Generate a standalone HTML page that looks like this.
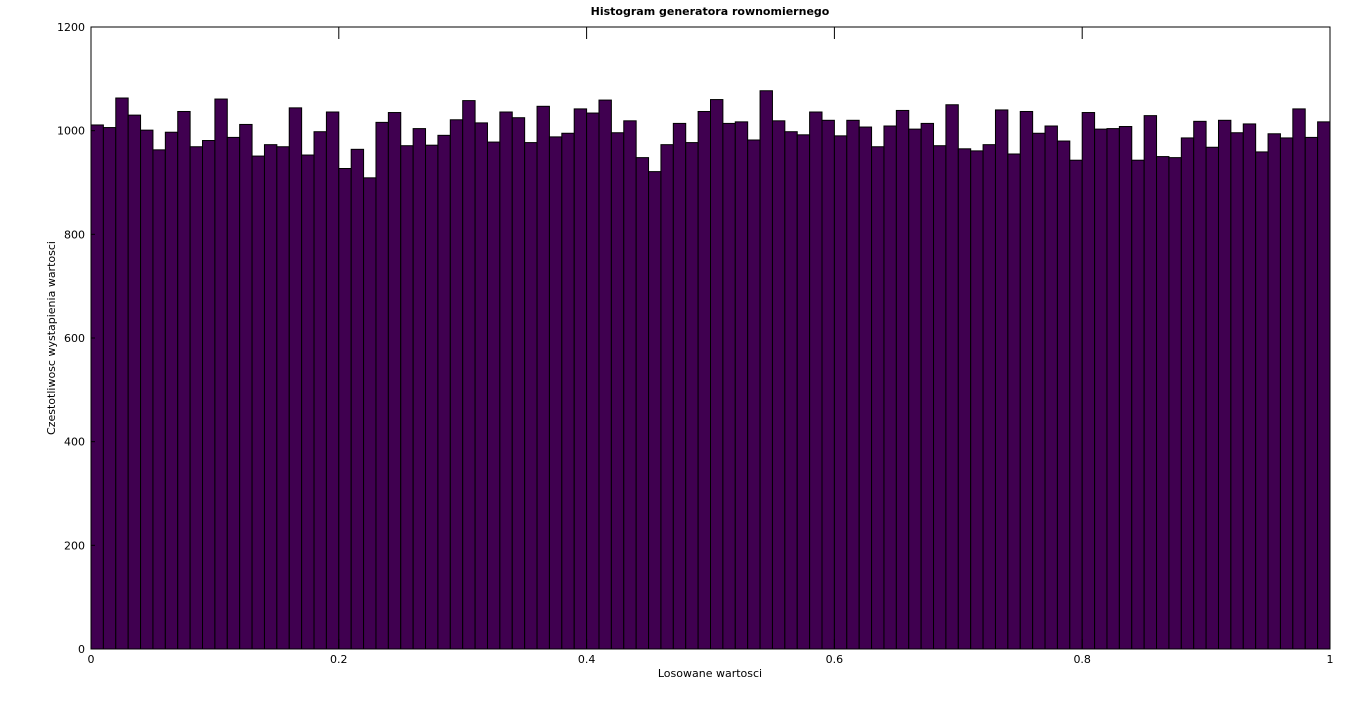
<!DOCTYPE html>
<html><head><meta charset="utf-8"><style>
body{margin:0;background:#fff;font-family:"DejaVu Sans",sans-serif}
svg text{font-family:"DejaVu Sans",sans-serif;font-size:11px;fill:#000}
</style></head><body>
<svg id="chart" width="1367" height="697" xmlns="http://www.w3.org/2000/svg">
<text x="710" y="15" text-anchor="middle" font-weight="bold">Histogram generatora rownomiernego</text>
<text x="710" y="677" text-anchor="middle">Losowane wartosci</text>
<text transform="translate(55,338) rotate(-90)" text-anchor="middle">Czestotliwosc wystapienia wartosci</text>
<g id="bars"></g>
<g id="axes"></g>
</svg>
<script>
const counts=[1011,1006,1063,1030,1001,963,997,1037,969,981,1061,987,1012,951,973,969,1044,953,998,1036,927,964,909,1016,1035,971,1004,972,991,1021,1058,1015,978,1036,1025,977,1047,988,995,1042,1034,1059,996,1019,948,921,973,1014,977,1037,1060,1014,1017,982,1077,1019,998,992,1036,1020,990,1020,1007,969,1009,1039,1003,1014,971,1050,965,961,973,1040,955,1037,995,1009,980,943,1035,1003,1004,1008,943,1029,950,948,986,1018,968,1020,996,1013,959,994,986,1042,987,1017];
const xTicks=[0,0.2,0.4,0.6,0.8,1];
const yTicks=[0,200,400,600,800,1000,1200];
const X0=91,X1=1330,Y0=649,Y1=27;
const sx=v=>X0+v*(X1-X0);
const sy=v=>Y0-v/1200*(Y0-Y1);
const NS="http://www.w3.org/2000/svg";
const bars=document.getElementById('bars'),axes=document.getElementById('axes');
const n=counts.length;
counts.forEach((c,i)=>{
  const r=document.createElementNS(NS,'rect');
  const x=sx(i/n),w=sx((i+1)/n)-x;
  r.setAttribute('x',x);r.setAttribute('y',sy(c));r.setAttribute('width',w);r.setAttribute('height',Y0-sy(c));
  r.setAttribute('fill','#400050');r.setAttribute('stroke','#000');r.setAttribute('stroke-width','1');
  
  
  bars.appendChild(r);
});
const frame=document.createElementNS(NS,'rect');
frame.setAttribute('x',X0);frame.setAttribute('y',Y1);frame.setAttribute('width',X1-X0);frame.setAttribute('height',Y0-Y1);
frame.setAttribute('fill','none');frame.setAttribute('stroke','#000');


axes.appendChild(frame);
function line(x1,y1,x2,y2){const l=document.createElementNS(NS,'line');l.setAttribute('x1',x1);l.setAttribute('y1',y1);l.setAttribute('x2',x2);l.setAttribute('y2',y2);l.setAttribute('stroke','#000');axes.appendChild(l);return l;}
xTicks.forEach(t=>{
  const x=sx(t);
  const a=line(x,Y0,x,Y0-10);
  
  
  const b=line(x,Y1,x,Y1+12);
  
  
  const tx=document.createElementNS(NS,'text');
  tx.setAttribute('x',x);tx.setAttribute('y',663);tx.setAttribute('text-anchor','middle');tx.textContent=String(t);
  
  
  axes.appendChild(tx);
});
yTicks.forEach(t=>{
  const y=sy(t);
  const a=line(X0,y,X0+4,y);
  
  
  const tx=document.createElementNS(NS,'text');
  tx.setAttribute('x',85);tx.setAttribute('y',y+4);tx.setAttribute('text-anchor','end');tx.textContent=String(t);
  
  
  axes.appendChild(tx);
});
</script>
</body></html>
